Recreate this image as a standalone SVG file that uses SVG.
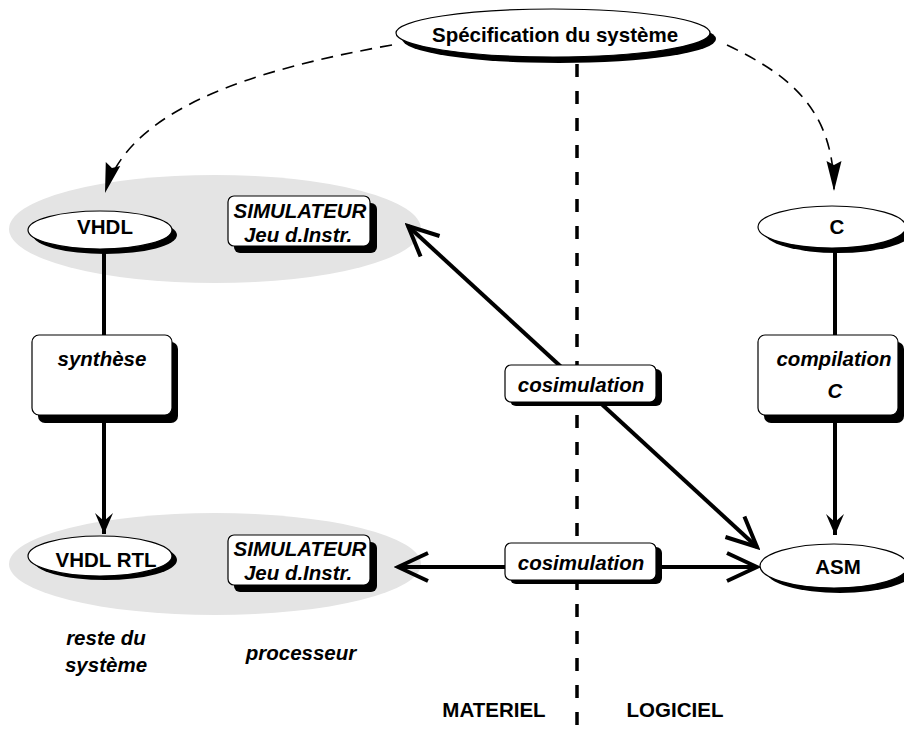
<svg xmlns="http://www.w3.org/2000/svg" width="904" height="737" viewBox="0 0 904 737">
  <style>
    text { font-family: "Liberation Sans", Arial, sans-serif; font-weight: bold; font-size: 20.5px; fill: #000; text-anchor: middle; }
    .it { font-style: italic; }
    .zone { fill: #e4e4e4; stroke: none; }
    .shadow { fill: #000; stroke: none; }
    .node { fill: #fff; stroke: #000; stroke-width: 1.2; }
    .flow { fill: none; stroke: #000; stroke-width: 4; }
    .dash { fill: none; stroke: #000; stroke-width: 1.6; stroke-dasharray: 12 8; }
    .split { fill: none; stroke: #000; stroke-width: 3.5; stroke-dasharray: 13 14; }
  </style>
  <defs>
    <marker id="openArrow" markerUnits="userSpaceOnUse" viewBox="-34 -18 38 36" refX="0" refY="0" markerWidth="38" markerHeight="36" orient="auto-start-reverse">
      <path d="M -30 -14 L 0 0 L -30 14" fill="none" stroke="#000" stroke-width="4" stroke-linejoin="miter"/>
    </marker>
    <marker id="solidArrow" markerUnits="userSpaceOnUse" viewBox="-24 -12 26 24" refX="0" refY="0" markerWidth="26" markerHeight="24" orient="auto">
      <path d="M 0 0 L -21 -9 L -13 0 L -21 9 Z" fill="#000"/>
    </marker>
    <marker id="thinArrow" markerUnits="userSpaceOnUse" viewBox="-32 -10 34 20" refX="0" refY="0" markerWidth="34" markerHeight="20" orient="auto">
      <path d="M 0 0 L -30 -7.5 L -26 0 L -30 7.5 Z" fill="#000"/>
    </marker>
  </defs>

  <!-- grey grouping zones -->
  <ellipse class="zone" cx="215" cy="229" rx="206" ry="54"/>
  <ellipse class="zone" cx="215" cy="564" rx="206" ry="51"/>

  <!-- hardware / software boundary -->
  <line class="split" x1="577" y1="64" x2="577" y2="737"/>

  <g id="connectors">
    <path class="dash" d="M 392 45 C 250 70 128 110 105 193" marker-end="url(#thinArrow)"/>
    <path class="dash" d="M 727 45 C 790 75 834 110 834 191" marker-end="url(#thinArrow)"/>
    <line class="flow" x1="104" y1="249" x2="104" y2="337"/>
    <line class="flow" x1="104" y1="420" x2="104" y2="534" marker-end="url(#solidArrow)"/>
    <line class="flow" x1="835" y1="250" x2="835" y2="337"/>
    <line class="flow" x1="835" y1="420" x2="835" y2="535" marker-end="url(#solidArrow)"/>
    <line class="flow" x1="408" y1="226" x2="757" y2="547" marker-start="url(#openArrow)" marker-end="url(#openArrow)"/>
    <line class="flow" x1="505" y1="567" x2="398" y2="567" marker-end="url(#openArrow)"/>
    <line class="flow" x1="656" y1="567" x2="757" y2="567" marker-end="url(#openArrow)"/>
  </g>

  <g id="spec">
    <ellipse class="shadow" cx="559" cy="39" rx="157" ry="24"/>
    <ellipse class="node" cx="553" cy="33" rx="157" ry="24"/>
    <text x="555" y="42">Spécification du système</text>
  </g>

  <g id="vhdl">
    <ellipse class="shadow" cx="105" cy="235" rx="72" ry="19"/>
    <ellipse class="node" cx="100" cy="230" rx="72" ry="19"/>
    <text x="105" y="234">VHDL</text>
  </g>

  <g id="sim-top">
    <rect class="shadow" x="234" y="203" width="143" height="50" rx="6"/>
    <rect class="node" x="228" y="196" width="142" height="50" rx="6"/>
    <text class="it" x="300" y="218">SIMULATEUR</text>
    <text class="it" x="298" y="242">Jeu d.Instr.</text>
  </g>

  <g id="c-src">
    <ellipse class="shadow" cx="838" cy="232" rx="74" ry="21"/>
    <ellipse class="node" cx="832" cy="227" rx="74" ry="21"/>
    <text x="837" y="234">C</text>
  </g>

  <g id="synthese">
    <rect class="shadow" x="38" y="342" width="140" height="81" rx="7"/>
    <rect class="node" x="32" y="335" width="140" height="80" rx="7"/>
    <text class="it" x="102" y="366">synthèse</text>
  </g>

  <g id="compilation">
    <rect class="shadow" x="764" y="342" width="140" height="81" rx="7"/>
    <rect class="node" x="758" y="335" width="140" height="80" rx="7"/>
    <text class="it" x="834" y="366">compilation</text>
    <text class="it" x="835" y="398">C</text>
  </g>

  <g id="cosim-top">
    <rect class="shadow" x="510" y="369" width="152" height="37" rx="6"/>
    <rect class="node" x="505" y="365" width="151" height="37" rx="6"/>
    <text class="it" x="581" y="392">cosimulation</text>
  </g>

  <g id="vhdl-rtl">
    <ellipse class="shadow" cx="105" cy="560" rx="72" ry="20"/>
    <ellipse class="node" cx="100" cy="556" rx="72" ry="20"/>
    <text x="106" y="567">VHDL RTL</text>
  </g>

  <g id="sim-bottom">
    <rect class="shadow" x="234" y="542" width="143" height="50" rx="6"/>
    <rect class="node" x="228" y="535" width="142" height="50" rx="6"/>
    <text class="it" x="300" y="556">SIMULATEUR</text>
    <text class="it" x="298" y="580">Jeu d.Instr.</text>
  </g>

  <g id="cosim-bottom">
    <rect class="shadow" x="510" y="547" width="152" height="37" rx="6"/>
    <rect class="node" x="505" y="543" width="151" height="37" rx="6"/>
    <text class="it" x="581" y="570">cosimulation</text>
  </g>

  <g id="asm">
    <ellipse class="shadow" cx="840" cy="571" rx="74" ry="22"/>
    <ellipse class="node" cx="834" cy="566" rx="74" ry="22"/>
    <text x="838" y="574">ASM</text>
  </g>

  <!-- zone captions and side labels -->
  <text class="it" x="106" y="645">reste du</text>
  <text class="it" x="106" y="672">système</text>
  <text class="it" x="301" y="660">processeur</text>
  <text x="494" y="717">MATERIEL</text>
  <text x="675" y="717">LOGICIEL</text>
</svg>
